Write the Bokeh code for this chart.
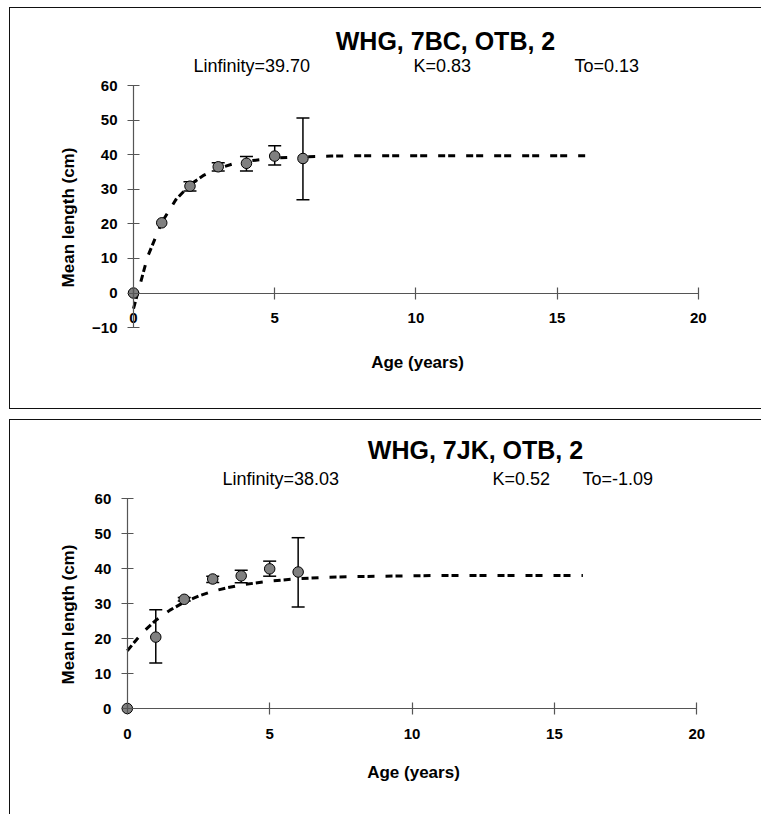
import math
from bokeh.plotting import figure
from bokeh.models import Label, FixedTicker, Range1d
from bokeh.layouts import column
from bokeh.embed import file_html
from bokeh.resources import INLINE

# ---------------- data ----------------
ages = [0, 1, 2, 3, 4, 5, 6]

bc_mean = [0.0, 20.3, 30.9, 36.5, 37.5, 39.6, 38.9]
bc_upper = [None, None, 32.2, 37.7, 39.5, 42.6, 50.6]
bc_lower = [None, None, 29.5, 35.3, 35.3, 37.0, 27.0]

jk_mean = [0.0, 20.4, 31.2, 37.0, 37.9, 39.9, 39.0]
jk_upper = [None, 28.2, 31.7, 37.8, 39.5, 42.1, 48.8]
jk_lower = [None, 13.0, 30.7, 36.0, 35.9, 37.8, 29.0]

fit_age = [0, 0.5, 1, 1.5, 2, 2.5, 3, 3.5, 4, 5, 6, 7, 8, 9, 10, 11, 12, 13, 14, 15, 16]
bc_fit = [-4.5, 10.5, 20.4, 27.0, 31.3, 34.1, 36.0, 37.3, 38.1, 39.0, 39.4, 39.6,
          39.7, 39.7, 39.7, 39.7, 39.7, 39.7, 39.7, 39.7, 39.7]
jk_fit = [16.5, 21.4, 25.2, 28.1, 30.4, 32.1, 33.5, 34.5, 35.3, 36.4, 37.1, 37.5,
          37.7, 37.8, 37.9, 38.0, 38.0, 38.0, 38.0, 38.0, 38.0]

x_ticks = [0, 5, 10, 15, 20]
bc_y_ticks = [-10, 0, 10, 20, 30, 40, 50, 60]
jk_y_ticks = [0, 10, 20, 30, 40, 50, 60]

bc_title = "WHG, 7BC, OTB, 2"
jk_title = "WHG, 7JK, OTB, 2"
bc_params = ["Linfinity=39.70", "K=0.83", "To=0.13"]
jk_params = ["Linfinity=38.03", "K=0.52", "To=-1.09"]
x_title = "Age (years)"
y_title = "Mean length (cm)"

FONT = "Liberation Sans"


def panel(title, params, mean, upper, lower, fit, yticks, cfg):
    W, H = cfg["w"], cfg["h"]
    # pixel anchors (inside the figure) -> data ranges; the frame fills the figure
    x0px, xs = cfg["x0px"], cfg["xscale"]
    y60px, ys = cfg["y60px"], cfg["yscale"]
    xr = Range1d(-x0px / xs, (W - x0px) / xs)
    yr = Range1d(60 - (H - y60px) / ys, 60 + y60px / ys)
    p = figure(width=W, height=H, output_backend="svg", toolbar_location=None,
               x_range=xr, y_range=yr, min_border=0, title=None)
    p.outline_line_color = None
    p.xgrid.visible = False
    p.ygrid.visible = False
    p.margin = cfg["margin"]
    st = {"border-top": "1px solid #111", "border-left": "1px solid #111"}
    if cfg["bottom_border"]:
        st["border-bottom"] = "1px solid #111"
    p.styles = st

    for ax in (p.xaxis[0], p.yaxis[0]):
        ax.fixed_location = 0
        ax.axis_line_color = "#555555"
        ax.axis_line_width = 1.2
        ax.major_tick_line_color = "#555555"
        ax.major_tick_line_width = 1.2
        ax.major_tick_in = 6
        ax.major_tick_out = 6
        ax.minor_tick_line_color = None
        ax.major_label_text_font = FONT
        ax.major_label_text_font_style = "bold"
        ax.major_label_text_font_size = "15px"
        ax.major_label_text_color = "black"
    p.xaxis.ticker = FixedTicker(ticks=x_ticks)
    p.yaxis.ticker = FixedTicker(ticks=yticks)
    p.xaxis.bounds = (x_ticks[0], x_ticks[-1])
    p.yaxis.bounds = (yticks[0], yticks[-1])
    p.xaxis.major_label_standoff = 14
    p.yaxis.major_label_standoff = 10

    # fitted curve
    p.line(fit_age, fit, line_color="black", line_width=3, line_dash="7 3 7 11")

    # error bars
    ex = [a for a, u in zip(ages, upper) if u is not None]
    eu = [u for u in upper if u is not None]
    el = [l for l in lower if l is not None]
    p.segment(x0=ex, y0=el, x1=ex, y1=eu, line_color="black", line_width=1.5)
    p.scatter(ex, eu, marker="dash", size=13, line_color="black", line_width=1.5)
    p.scatter(ex, el, marker="dash", size=13, line_color="black", line_width=1.5)

    # observed means
    p.scatter(ages, mean, size=10.5, fill_color="#808080", line_color="black", line_width=1)

    # texts
    p.add_layout(Label(x=cfg["title_xy"][0], y=cfg["title_xy"][1], x_units="canvas", y_units="canvas",
                       text=title, text_font=FONT, text_font_style="bold", text_font_size="25px",
                       text_align="center", text_baseline="middle", text_color="black"))
    for t, px in zip(params, cfg["param_x"]):
        p.add_layout(Label(x=px, y=cfg["param_y"], x_units="canvas", y_units="canvas",
                           text=t, text_font=FONT, text_font_size="18px",
                           text_align="left", text_baseline="middle", text_color="black"))
    p.add_layout(Label(x=cfg["xt"][0], y=cfg["xt"][1], x_units="canvas", y_units="canvas",
                       text=x_title, text_font=FONT, text_font_style="bold", text_font_size="17px",
                       text_align="center", text_baseline="middle", text_color="black"))
    p.add_layout(Label(x=cfg["yt"][0], y=cfg["yt"][1], x_units="canvas", y_units="canvas",
                       text=y_title, text_font=FONT, text_font_style="bold", text_font_size="17px",
                       angle=math.pi / 2, text_align="center", text_baseline="middle",
                       text_color="black"))
    return p


top_cfg = dict(w=752, h=402, x0px=123, xscale=28.24, y60px=77, yscale=3.459,
               margin=(7, 0, 0, 9), bottom_border=True,
               title_xy=(434, 31), param_x=(182, 402, 563), param_y=56,
               xt=(406, 353), yt=(57, 208))
bot_cfg = dict(w=752, h=395, x0px=116.8, xscale=28.475, y60px=78, yscale=3.5,
               margin=(10, 0, 0, 9), bottom_border=False,
               title_xy=(464, 28), param_x=(211, 481, 571), param_y=57,
               xt=(402, 351), yt=(57, 193))

p1 = panel(bc_title, bc_params, bc_mean, bc_upper, bc_lower, bc_fit, bc_y_ticks, top_cfg)
p2 = panel(jk_title, jk_params, jk_mean, jk_upper, jk_lower, jk_fit, jk_y_ticks, bot_cfg)

layout = column(p1, p2, spacing=0)
open("out.html", "w").write(file_html(layout, INLINE))
